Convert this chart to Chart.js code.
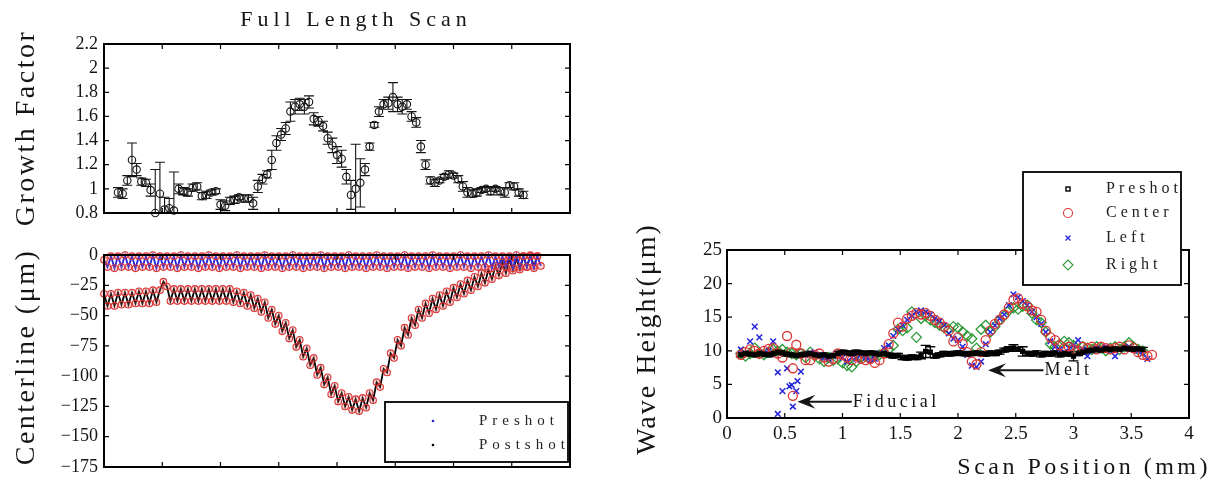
<!DOCTYPE html>
<html>
<head>
<meta charset="utf-8">
<title>Full Length Scan</title>
<script src="https://cdn.jsdelivr.net/npm/chart.js@4.4.1/dist/chart.umd.min.js"></script>
<style>
  body { margin: 0; background: #fff; }
  #wrap { position: relative; width: 1223px; height: 484px; }
  #wrap canvas { position: absolute; left: 0; top: 0; }
</style>
</head>
<body>
<div id="wrap">
  <canvas id="growth" width="1223" height="484"></canvas>
  <canvas id="centerline" width="1223" height="484"></canvas>
  <canvas id="wave" width="1223" height="484"></canvas>
</div>
<script>
// scan positions (mm) for growth factor and wave height
const scanPos = [
  0, 0.04, 0.08, 0.12, 0.16, 0.2, 0.24, 0.28, 0.32, 0.36,
  0.4, 0.44, 0.48, 0.52, 0.56, 0.6, 0.64, 0.68, 0.72, 0.76,
  0.8, 0.84, 0.88, 0.92, 0.96, 1, 1.04, 1.08, 1.12, 1.16,
  1.2, 1.24, 1.28, 1.32, 1.36, 1.4, 1.44, 1.48, 1.52, 1.56,
  1.6, 1.64, 1.68, 1.72, 1.76, 1.8, 1.84, 1.88, 1.92, 1.96,
  2, 2.04, 2.08, 2.12, 2.16, 2.2, 2.24, 2.28, 2.32, 2.36,
  2.4, 2.44, 2.48, 2.52, 2.56, 2.6, 2.64, 2.68, 2.72, 2.76,
  2.8, 2.84, 2.88, 2.92, 2.96, 3, 3.04, 3.08, 3.12, 3.16,
  3.2, 3.24, 3.28, 3.32, 3.36, 3.4, 3.44, 3.48, 3.52, 3.56,
  3.6, 3.64, 3.68, 3.72, 3.76
];

const growthFactor = [
  null, null, null, 0.97, 0.96, 1.07, 1.24, 1.16, 1.06, 1.05,
  0.99, 0.80, 0.96, 0.83, 0.84, 0.82, 1.00, 0.98, 0.97, 1.01,
  1.02, 0.94, 0.95, 0.97, 0.98, 0.87, 0.86, 0.90, 0.91, 0.93,
  0.92, 0.92, 0.88, 1.02, 1.08, 1.12, 1.24, 1.38, 1.45, 1.50,
  1.64, 1.68, 1.70, 1.68, 1.72, 1.58, 1.56, 1.52, 1.42, 1.36,
  1.28, 1.25, 1.10, 0.95, 1.00, 1.05, 1.16, 1.35, 1.53, 1.64,
  1.70, 1.71, 1.76, 1.70, 1.68, 1.70, 1.60, 1.55, 1.35, 1.20,
  1.07, 1.05, 1.07, 1.10, 1.12, 1.11, 1.08, 1.02, 0.97, 0.96,
  0.97, 0.99, 1.00, 0.98, 1.00, 0.98, 0.97, 1.03, 1.02, 0.97,
  0.95, null, null, null, null
];

const growthError = [
  null, null, null, 0.04, 0.04, 0.04, 0.14, 0.05, 0.03, 0.03,
  0.05, 0.36, 0.26, 0.10, 0.08, 0.32, 0.04, 0.03, 0.03, 0.03,
  0.03, 0.03, 0.03, 0.02, 0.02, 0.04, 0.04, 0.03, 0.03, 0.02,
  0.03, 0.03, 0.05, 0.05, 0.04, 0.03, 0.08, 0.06, 0.05, 0.05,
  0.08, 0.06, 0.05, 0.06, 0.05, 0.05, 0.04, 0.04, 0.05, 0.06,
  0.07, 0.07, 0.06, 0.12, 0.37, 0.20, 0.05, 0.03, 0.02, 0.04,
  0.04, 0.05, 0.12, 0.06, 0.06, 0.04, 0.04, 0.04, 0.05, 0.04,
  0.03, 0.03, 0.02, 0.02, 0.03, 0.02, 0.03, 0.04, 0.04, 0.03,
  0.03, 0.02, 0.02, 0.03, 0.02, 0.03, 0.04, 0.02, 0.03, 0.03,
  0.03, null, null, null, null
];

// centerline traces are sampled more finely
const centerPos = [
  0, 0.03, 0.06, 0.09, 0.12, 0.15, 0.18, 0.21, 0.24, 0.27,
  0.3, 0.33, 0.36, 0.39, 0.42, 0.45, 0.48, 0.51, 0.54, 0.57,
  0.6, 0.63, 0.66, 0.69, 0.72, 0.75, 0.78, 0.81, 0.84, 0.87,
  0.9, 0.93, 0.96, 0.99, 1.02, 1.05, 1.08, 1.11, 1.14, 1.17,
  1.2, 1.23, 1.26, 1.29, 1.32, 1.35, 1.38, 1.41, 1.44, 1.47,
  1.5, 1.53, 1.56, 1.59, 1.62, 1.65, 1.68, 1.71, 1.74, 1.77,
  1.8, 1.83, 1.86, 1.89, 1.92, 1.95, 1.98, 2.01, 2.04, 2.07,
  2.1, 2.13, 2.16, 2.19, 2.22, 2.25, 2.28, 2.31, 2.34, 2.37,
  2.4, 2.43, 2.46, 2.49, 2.52, 2.55, 2.58, 2.61, 2.64, 2.67,
  2.7, 2.73, 2.76, 2.79, 2.82, 2.85, 2.88, 2.91, 2.94, 2.97,
  3, 3.03, 3.06, 3.09, 3.12, 3.15, 3.18, 3.21, 3.24, 3.27,
  3.3, 3.33, 3.36, 3.39, 3.42, 3.45, 3.48, 3.51, 3.54, 3.57,
  3.6, 3.63, 3.66, 3.69, 3.72, 3.75
];

const preshotCenterline = [
  -4, -10, -1, -11, -1, -10, 0, -10, -1, -11,
  -1, -10, -1, -10, 0, -11, -1, -10, -1, -10,
  -1, -11, 0, -10, -1, -10, -1, -11, -1, -10,
  0, -10, -1, -11, -1, -10, -1, -10, 0, -11,
  -1, -10, -1, -10, -1, -11, 0, -10, -1, -10,
  -1, -11, -1, -10, 0, -10, -1, -11, -1, -10,
  -1, -10, 0, -11, -1, -10, -1, -10, -1, -11,
  0, -10, -1, -10, -1, -11, -1, -10, 0, -10,
  -1, -11, -1, -10, -1, -10, 0, -11, -1, -10,
  -1, -10, -1, -11, 0, -10, -1, -10, -1, -11,
  -1, -10, 0, -10, -1, -11, -1, -10, -1, -10,
  0, -11, -1, -10, -1, -10, -1, -11, 0, -10,
  -1, -10, -1, -11, -1, -9
];

const postshotCenterline = [
  -32, -42, -32, -42, -31, -41, -31, -41, -31, -40,
  -30, -40, -30, -40, -29, -39, -29, -22, -26, -38,
  -28, -38, -28, -38, -28, -38, -28, -38, -28, -38,
  -28, -38, -28, -38, -28, -38, -28, -39, -30, -40,
  -31, -42, -33, -44, -36, -47, -39, -52, -45, -57,
  -50, -63, -56, -69, -62, -76, -70, -84, -77, -91,
  -85, -99, -93, -107, -101, -115, -108, -121, -114, -125,
  -117, -128, -119, -129, -118, -126, -114, -120, -105, -109,
  -94, -97, -81, -85, -70, -75, -60, -66, -52, -58,
  -45, -52, -40, -48, -36, -45, -33, -42, -30, -39,
  -27, -35, -24, -32, -21, -29, -18, -26, -15, -23,
  -12, -20, -9, -17, -6, -15, -4, -13, -3, -12,
  -1, -10, 0, -9, -1, null
];

// wave height (um), sampled on scanPos
const preshotWave = [
  null, null, null, 9.4, 9.6, 9.5, 9.4, 9.6, 9.5, 9.4,
  9.6, 9.8, 9.7, 9.5, 9.4, 9.3, 9.4, 9.5, 9.6, 9.4,
  9.3, 9.4, 9.2, 9.3, 9.6, 9.8, 9.7, 9.6, 9.8, 9.7,
  9.6, 9.7, 9.6, 9.5, 9.6, 9.4, 9.2, 9.3, 9.0, 8.9,
  9.1, 9.0, 9.3, 9.9, 9.8, 9.2, 9.4, 9.6, 9.5, 9.6,
  9.7, 9.6, 9.5, 9.6, 9.7, 9.6, 9.5, 9.7, 9.6, 9.8,
  10.1, 10.3, 10.4, 10.2, 9.9, 9.6, 9.5, 9.7, 9.4, 9.6,
  9.5, 9.7, 9.4, 9.6, 9.5, 9.2, 9.6, 9.8, 10.0, 10.1,
  10.2, 10.1, 10.3, 10.2, 10.3, 10.2, 10.4, 10.3, 10.2, 10.3,
  10.2, null, null, null, null
];

const preshotWaveError = [
  null, null, null, 0.3, 0.3, 0.3, 0.3, 0.3, 0.3, 0.3,
  0.3, 0.3, 0.3, 0.3, 0.3, 0.3, 0.3, 0.3, 0.3, 0.3,
  0.3, 0.3, 0.3, 0.3, 0.3, 0.3, 0.3, 0.3, 0.3, 0.3,
  0.3, 0.3, 0.3, 0.3, 0.3, 0.3, 0.3, 0.3, 0.3, 0.3,
  0.3, 0.3, 0.5, 0.9, 0.8, 0.3, 0.3, 0.3, 0.3, 0.3,
  0.3, 0.3, 0.3, 0.3, 0.3, 0.3, 0.3, 0.3, 0.3, 0.3,
  0.3, 0.3, 0.5, 0.3, 0.7, 0.3, 0.3, 0.3, 0.3, 0.3,
  0.3, 0.3, 0.3, 0.3, 0.3, 0.7, 0.3, 0.3, 0.3, 0.3,
  0.3, 0.3, 0.3, 0.3, 0.3, 0.3, 0.3, 0.3, 0.3, 0.3,
  0.3, null, null, null, null
];

const centerWave = [
  null, null, null, 9.4, 9.8, 10.2, 10.0, 9.6, 10.0, 10.3,
  10.4, 9.6, 9.0, 12.2, 9.8, 10.9, 9.6, 8.6, 8.6, 9.4,
  9.6, 9.0, 8.4, 8.8, 9.6, 9.4, 9.0, 8.6, 9.2, 8.8,
  8.6, 8.8, 8.2, 8.6, 9.6, 11.0, 12.6, 14.2, 13.6, 14.8,
  15.2, 15.6, 15.4, 15.6, 15.2, 14.6, 14.2, 13.6, 13.0, 11.4,
  12.0, 11.0, 9.8, 8.4, 8.0, 9.8, 11.6, 13.0, 14.0, 14.6,
  15.4, 16.4, 17.6, 17.8, 17.0, 16.6, 16.0, 15.8, 14.6, 13.0,
  12.0, 11.6, 10.8, 10.4, 10.6, 10.2, 10.0, 10.6, 10.4, 10.6,
  10.2, 10.6, 10.4, 10.2, 10.4, 10.6, 10.2, 10.8, 10.4, 9.8,
  9.4, 9.2, 9.4, null, null
];

const leftWave = [
  null, null, null, 10.2, 9.6, 11.4, 13.6, 12.0, 9.6, 10.0,
  11.4, 6.8, 4.0, 7.4, 4.9, 4.0, 6.9, 9.4, 9.6, 9.8,
  9.4, 9.0, 8.8, 9.2, 9.6, 9.0, 8.4, 9.0, 8.8, 9.4,
  9.0, 8.6, 8.8, 9.6, 10.4, 10.8, 12.2, 13.2, 13.8, 14.6,
  15.2, 15.8, 16.0, 15.8, 15.4, 14.8, 14.4, 13.8, 12.6, 11.8,
  11.6, 10.6, 9.4, 7.8, 7.6, 8.4, 11.0, 12.8, 13.8, 14.8,
  15.4, 16.8, 18.4, 18.0, 17.4, 16.8, 15.8, 15.0, 14.0, 12.8,
  11.4, 10.6, 10.2, 9.8, 10.4, 10.8, 11.6, 10.2, 9.2, 10.0,
  10.4, 10.2, 10.6, 10.0, 9.2, 10.2, 10.4, 10.6, 10.2, 10.0,
  9.6, 8.8, null, null, null
];

const rightWave = [
  null, null, null, 9.6, 9.2, 9.6, 10.4, 9.6, 9.4, 9.8,
  10.2, 10.0, 10.2, 9.8, 9.6, 9.4, 9.6, 9.0, 9.8, 9.2,
  8.8, 8.4, 9.0, 8.6, 8.8, 8.2, 7.8, 7.6, 8.4, 9.0,
  9.2, 8.8, 9.2, 9.4, 9.8, 10.2, 10.8, 13.2, 13.0, 13.4,
  15.8, 12.0, 14.8, 15.2, 14.6, 14.2, 13.8, 13.4, 13.2, 13.6,
  13.4, 12.8, 12.2, 11.8, 10.4, 13.2, 13.8, 12.8, 13.6, 14.6,
  15.2, 16.0, 16.4, 16.2, 16.6, 16.8, 15.6, 14.6, 14.2, 12.8,
  11.0, 10.6, 11.0, 11.4, 11.2, 10.8, 10.2, 10.6, 10.4, 10.2,
  10.6, 10.4, 10.0, 10.4, 10.6, 10.2, 10.6, 11.2, 10.6, 10.2,
  10.0, null, null, null, null
];

// extra scattered readings around the fiducial mark
const centerFiducialPos = [0.57, 0.57];
const centerFiducial = [7.4, 3.3];
const leftFiducialPos = [0.44, 0.54, 0.57, 0.61];
const leftFiducial = [0.6, 4.7, 1.7, 5.5];

// axis ticks
const scanTicks = [0, 0.5, 1, 1.5, 2, 2.5, 3, 3.5, 4];
const growthTicks = [0.8, 1, 1.2, 1.4, 1.6, 1.8, 2, 2.2];
const centerlineTicks = [-175, -150, -125, -100, -75, -50, -25, 0];
const waveTicks = [0, 5, 10, 15, 20, 25];

const SERIF = "'Liberation Serif', 'DejaVu Serif', serif";
const RED = '#dc3434';
const BLUE = '#2424dc';
const GREEN = '#2e9a3a';
const INK = '#151515';

function series(xs, ys, errs) {
  const out = [];
  xs.forEach((x, i) => {
    if (ys[i] === null || ys[i] === undefined) return;
    out.push(errs ? { x: x, y: ys[i], err: errs[i] } : { x: x, y: ys[i] });
  });
  return out;
}

function fmt(v) {
  return String(Math.round(v * 100) / 100).replace('-', '\u2212');
}

function axis(ticks, o) {
  return {
    type: 'linear',
    min: ticks[0],
    max: ticks[ticks.length - 1],
    afterBuildTicks: s => { s.ticks = ticks.map(v => ({ value: v })); },
    grid: { display: false, drawTicks: false },
    border: { display: false },
    ticks: {
      display: !!o.labels,
      autoSkip: false,
      maxRotation: 0,
      color: INK,
      padding: o.pad || 0,
      font: { family: SERIF, size: o.size || 16 },
      callback: v => fmt(v)
    },
    afterFit: s => {
      if (s.isHorizontal()) s.height = o.thick; else s.width = o.thick;
    }
  };
}

function drawMarker(ctx, m, x, y) {
  const r = m.radius;
  ctx.save();
  ctx.strokeStyle = m.color;
  ctx.fillStyle = m.color;
  ctx.lineWidth = m.width || 1;
  ctx.beginPath();
  if (m.style === 'dot') {
    ctx.arc(x, y, r, 0, Math.PI * 2);
    ctx.fill();
  } else if (m.style === 'circle') {
    ctx.arc(x, y, r, 0, Math.PI * 2);
    ctx.stroke();
  } else if (m.style === 'rect') {
    ctx.strokeRect(x - r, y - r, 2 * r, 2 * r);
  } else if (m.style === 'rectRot') {
    ctx.moveTo(x, y - r); ctx.lineTo(x + r, y); ctx.lineTo(x, y + r); ctx.lineTo(x - r, y);
    ctx.closePath();
    ctx.stroke();
  } else if (m.style === 'crossRot') {
    ctx.moveTo(x - r, y - r); ctx.lineTo(x + r, y + r);
    ctx.moveTo(x + r, y - r); ctx.lineTo(x - r, y + r);
    ctx.stroke();
  }
  ctx.restore();
}

// vertical error bars with caps, taken from point.err
const errorBars = {
  id: 'errorBars',
  beforeDatasetsDraw(chart) {
    const { ctx, chartArea: a } = chart;
    ctx.save();
    ctx.beginPath();
    ctx.rect(a.left, a.top, a.right - a.left, a.bottom - a.top);
    ctx.clip();
    chart.data.datasets.forEach((ds, di) => {
      if (!ds.errorBar) return;
      const meta = chart.getDatasetMeta(di);
      const xs = chart.scales[meta.xAxisID];
      const ys = chart.scales[meta.yAxisID];
      const cap = ds.errorBar.cap;
      ctx.strokeStyle = ds.errorBar.color;
      ctx.lineWidth = ds.errorBar.width;
      ctx.beginPath();
      ds.data.forEach(p => {
        if (!p.err) return;
        const x = xs.getPixelForValue(p.x);
        const y0 = ys.getPixelForValue(p.y - p.err);
        const y1 = ys.getPixelForValue(p.y + p.err);
        ctx.moveTo(x, y0); ctx.lineTo(x, y1);
        ctx.moveTo(x - cap, y0); ctx.lineTo(x + cap, y0);
        ctx.moveTo(x - cap, y1); ctx.lineTo(x + cap, y1);
      });
      ctx.stroke();
    });
    ctx.restore();
  }
};

// boxed axes with inward tick marks on all four sides
const frame = {
  id: 'frame',
  afterDatasetsDraw(chart, args, o) {
    const { ctx, chartArea: a, scales } = chart;
    const len = o.tickLength;
    ctx.save();
    ctx.strokeStyle = '#000';
    ctx.lineWidth = 1.2;
    ctx.beginPath();
    scales.x.ticks.forEach(t => {
      const px = scales.x.getPixelForValue(t.value);
      if (px <= a.left + 1 || px >= a.right - 1) return;
      ctx.moveTo(px, a.bottom); ctx.lineTo(px, a.bottom - len);
      ctx.moveTo(px, a.top); ctx.lineTo(px, a.top + len);
    });
    scales.y.ticks.forEach(t => {
      const py = scales.y.getPixelForValue(t.value);
      if (py <= a.top + 1 || py >= a.bottom - 1) return;
      ctx.moveTo(a.left, py); ctx.lineTo(a.left + len, py);
      ctx.moveTo(a.right, py); ctx.lineTo(a.right - len, py);
    });
    ctx.stroke();
    ctx.lineWidth = o.lineWidth;
    ctx.strokeRect(a.left, a.top, a.right - a.left, a.bottom - a.top);
    ctx.restore();
  }
};

// spaced serif titles placed around the axes
const texts = {
  id: 'texts',
  afterDraw(chart, args, o) {
    const ctx = chart.ctx;
    (o.items || []).forEach(t => {
      ctx.save();
      ctx.font = t.font;
      ctx.letterSpacing = (t.spacing || 0) + 'px';
      ctx.fillStyle = INK;
      ctx.textAlign = t.align || 'center';
      ctx.textBaseline = 'middle';
      ctx.translate(t.x, t.y);
      if (t.vertical) ctx.rotate(-Math.PI / 2);
      ctx.fillText(t.text, 0, 0);
      ctx.restore();
    });
  }
};

// legend drawn as a white box with a black outline
const boxLegend = {
  id: 'boxLegend',
  afterDraw(chart, args, o) {
    if (!o.rows) return;
    const ctx = chart.ctx;
    const entries = chart.data.datasets.filter(ds => ds.legendMarker);
    ctx.save();
    ctx.fillStyle = '#fff';
    ctx.fillRect(o.left, o.top, o.width, o.height);
    ctx.strokeStyle = '#000';
    ctx.lineWidth = 1.8;
    ctx.strokeRect(o.left, o.top, o.width, o.height);
    ctx.font = o.font;
    ctx.letterSpacing = o.spacing + 'px';
    ctx.fillStyle = '#222';
    ctx.textAlign = 'left';
    ctx.textBaseline = 'middle';
    entries.forEach((ds, i) => {
      drawMarker(ctx, ds.legendMarker, o.markerX, o.rows[i]);
      ctx.fillText(ds.label, o.textX, o.rows[i]);
    });
    ctx.restore();
  }
};

// arrow annotations pointing at data locations
const arrows = {
  id: 'arrows',
  afterDatasetsDraw(chart, args, o) {
    if (!o.items) return;
    const { ctx, scales } = chart;
    o.items.forEach(a => {
      const tx = scales.x.getPixelForValue(a.tip[0]);
      const ty = scales.y.getPixelForValue(a.tip[1]);
      const ex = scales.x.getPixelForValue(a.tailX);
      ctx.save();
      ctx.strokeStyle = INK;
      ctx.fillStyle = INK;
      ctx.lineWidth = 2;
      ctx.beginPath();
      ctx.moveTo(ex, ty);
      ctx.lineTo(tx + 8, ty);
      ctx.stroke();
      ctx.beginPath();
      ctx.moveTo(tx, ty);
      ctx.lineTo(tx + o.head, ty - o.half);
      ctx.lineTo(tx + o.head * 0.62, ty);
      ctx.lineTo(tx + o.head, ty + o.half);
      ctx.closePath();
      ctx.fill();
      ctx.font = o.font;
      ctx.letterSpacing = o.spacing + 'px';
      ctx.textAlign = 'left';
      ctx.textBaseline = 'middle';
      ctx.fillText(a.text, ex + 1, ty);
      ctx.restore();
    });
  }
};

const common = {
  responsive: false,
  animation: false,
  events: []
};

// growth factor along the full scan
new Chart(document.getElementById('growth'), {
  type: 'scatter',
  data: {
    datasets: [{
      label: 'Growth Factor',
      data: series(scanPos, growthFactor, growthError),
      pointStyle: 'circle',
      pointRadius: 3.7,
      pointBorderWidth: 1.1,
      pointBorderColor: INK,
      pointBackgroundColor: 'rgba(0,0,0,0)',
      errorBar: { color: INK, width: 1.1, cap: 5 },
      clip: false
    }]
  },
  options: Object.assign({}, common, {
    layout: { padding: { left: 54, right: 653, top: 44, bottom: 271 } },
    scales: {
      x: axis(scanTicks, { labels: false, thick: 0 }),
      y: axis(growthTicks, { labels: true, size: 18, pad: 6, thick: 50 })
    },
    plugins: {
      legend: { display: false },
      tooltip: { enabled: false },
      frame: { tickLength: 5, lineWidth: 2 },
      texts: {
        items: [
          { text: 'Full Length Scan', x: 356, y: 20, font: '22px ' + SERIF, spacing: 5 },
          { text: 'Growth Factor', x: 27, y: 128, vertical: true, font: '28px ' + SERIF, spacing: 2.5 }
        ]
      }
    }
  }),
  plugins: [errorBars, frame, texts]
});

// centerline depth before and after the shot
new Chart(document.getElementById('centerline'), {
  type: 'scatter',
  data: {
    datasets: [{
      label: 'Preshot',
      data: series(centerPos, preshotCenterline),
      showLine: true,
      borderColor: BLUE,
      borderWidth: 1.8,
      pointStyle: 'circle',
      pointRadius: 3.3,
      pointBorderWidth: 1.1,
      pointBorderColor: RED,
      pointBackgroundColor: 'rgba(235,110,110,0.25)',
      legendMarker: { style: 'dot', radius: 1.3, color: BLUE },
      clip: 6
    }, {
      label: 'Postshot',
      data: series(centerPos, postshotCenterline),
      showLine: true,
      borderColor: '#000',
      borderWidth: 1.8,
      pointStyle: 'circle',
      pointRadius: 3.3,
      pointBorderWidth: 1.1,
      pointBorderColor: RED,
      pointBackgroundColor: 'rgba(235,110,110,0.25)',
      legendMarker: { style: 'dot', radius: 1.3, color: '#000' },
      clip: 6
    }]
  },
  options: Object.assign({}, common, {
    layout: { padding: { left: 54, right: 653, top: 255, bottom: 17 } },
    scales: {
      x: axis(scanTicks, { labels: false, thick: 0 }),
      y: axis(centerlineTicks, { labels: true, size: 18, pad: 6, thick: 50 })
    },
    plugins: {
      legend: { display: false },
      tooltip: { enabled: false },
      frame: { tickLength: 5, lineWidth: 2 },
      boxLegend: {
        left: 385, top: 402, width: 183, height: 60,
        markerX: 433, textX: 479, rows: [421, 445],
        font: '15px ' + SERIF, spacing: 5
      },
      texts: {
        items: [
          { text: 'Centerline (\u03bcm)', x: 27, y: 357, vertical: true, font: '28px ' + SERIF, spacing: 2.5 }
        ]
      }
    }
  }),
  plugins: [frame, texts, boxLegend]
});

// wave height across the scan for the three lineouts
new Chart(document.getElementById('wave'), {
  type: 'scatter',
  data: {
    datasets: [{
      label: 'Preshot',
      data: series(scanPos, preshotWave, preshotWaveError),
      pointStyle: 'rect',
      pointRadius: 2.9,
      pointBorderWidth: 1.2,
      pointBorderColor: '#000',
      pointBackgroundColor: '#000',
      errorBar: { color: '#000', width: 1.3, cap: 5 },
      legendMarker: { style: 'rect', radius: 2, color: '#000', width: 1.4 },
      clip: 5
    }, {
      label: 'Center',
      data: series(scanPos, centerWave).concat(series(centerFiducialPos, centerFiducial)),
      pointStyle: 'circle',
      pointRadius: 4.5,
      pointBorderWidth: 1.3,
      pointBorderColor: RED,
      pointBackgroundColor: 'rgba(0,0,0,0)',
      legendMarker: { style: 'circle', radius: 4.5, color: RED, width: 1.1 },
      clip: 5
    }, {
      label: 'Left',
      data: series(scanPos, leftWave).concat(series(leftFiducialPos, leftFiducial)),
      pointStyle: 'crossRot',
      pointRadius: 4,
      pointBorderWidth: 1.5,
      pointBorderColor: BLUE,
      legendMarker: { style: 'crossRot', radius: 2.5, color: BLUE, width: 1.3 },
      clip: 5
    }, {
      label: 'Right',
      data: series(scanPos, rightWave),
      pointStyle: 'rectRot',
      pointRadius: 5,
      pointBorderWidth: 1.3,
      pointBorderColor: GREEN,
      pointBackgroundColor: 'rgba(0,0,0,0)',
      legendMarker: { style: 'rectRot', radius: 5, color: GREEN, width: 1.1 },
      clip: 5
    }]
  },
  options: Object.assign({}, common, {
    layout: { padding: { left: 682, right: 34, top: 250, bottom: 36 } },
    scales: {
      x: axis(scanTicks, { labels: true, size: 19, pad: 5, thick: 30 }),
      y: axis(waveTicks, { labels: true, size: 19, pad: 5, thick: 45 })
    },
    plugins: {
      legend: { display: false },
      tooltip: { enabled: false },
      frame: { tickLength: 5, lineWidth: 2 },
      arrows: {
        head: 18, half: 7, font: '18px ' + SERIF, spacing: 3.5,
        items: [
          { text: 'Fiducial', tip: [0.61, 2.4], tailX: 1.08 },
          { text: 'Melt', tip: [2.26, 7.1], tailX: 2.74 }
        ]
      },
      boxLegend: {
        left: 1023, top: 172, width: 158, height: 113,
        markerX: 1068, textX: 1106, rows: [189, 213, 238, 265],
        font: '16px ' + SERIF, spacing: 4
      },
      texts: {
        items: [
          { text: 'Wave Height(\u03bcm)', x: 648, y: 339, vertical: true, font: '28px ' + SERIF, spacing: 2 },
          { text: 'Scan Position (mm)', x: 1211, y: 468, align: 'right', font: '24px ' + SERIF, spacing: 3.5 }
        ]
      }
    }
  }),
  plugins: [errorBars, frame, arrows, texts, boxLegend]
});
</script>
</body>
</html>
